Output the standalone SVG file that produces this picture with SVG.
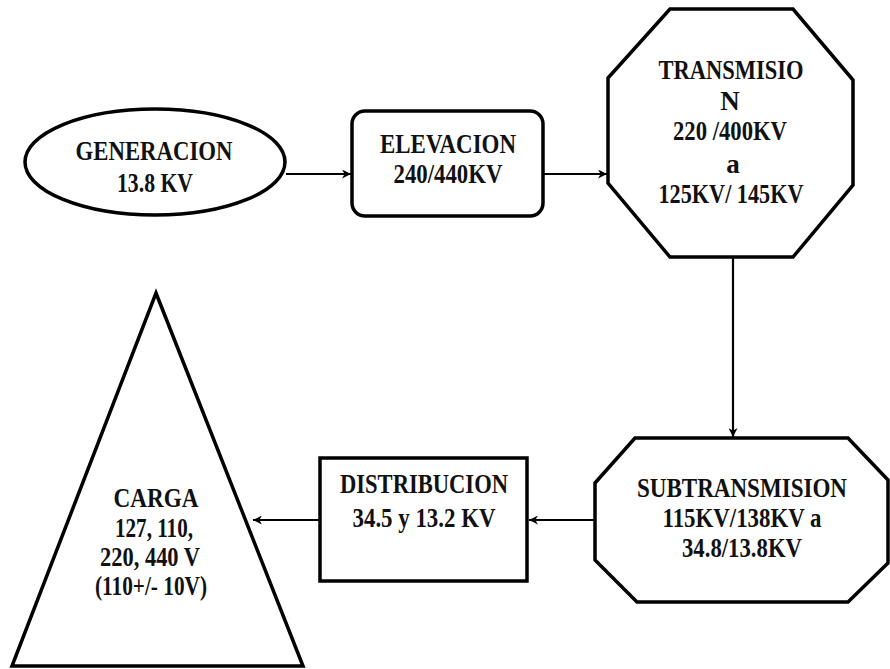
<svg xmlns="http://www.w3.org/2000/svg" width="890" height="669" viewBox="0 0 890 669">
<defs>
<style>
.shape{fill:#fff;stroke:#000;stroke-width:3.5;stroke-linejoin:miter}
.conn{stroke:#000;stroke-width:2.2;fill:none}
text{font-family:"Liberation Serif","Times New Roman",serif;font-weight:bold;font-size:27px;fill:#111;text-anchor:middle}
</style>
<marker id="arr" viewBox="0 0 10 10" refX="10" refY="5" markerWidth="10" markerHeight="9" orient="auto" markerUnits="userSpaceOnUse">
<path d="M0,0 L10,5 L0,10 L3,5 Z" fill="#000"/>
</marker>
</defs>
<rect width="890" height="669" fill="#fff"/>
<g id="connectors">
<line class="conn" x1="286" y1="174" x2="351" y2="174" marker-end="url(#arr)"/>
<line class="conn" x1="544" y1="174" x2="607" y2="174" marker-end="url(#arr)"/>
<line class="conn" x1="733" y1="258" x2="733" y2="437" marker-end="url(#arr)"/>
<line class="conn" x1="594" y1="520" x2="529" y2="520" marker-end="url(#arr)"/>
<line class="conn" x1="319" y1="520" x2="253" y2="520" marker-end="url(#arr)"/>
</g>
<g id="generacion">
<ellipse class="shape" cx="155" cy="162" rx="130" ry="53"/>
<text x="154" y="160" textLength="157" lengthAdjust="spacingAndGlyphs">GENERACION</text>
<text x="155" y="192" textLength="76" lengthAdjust="spacingAndGlyphs">13.8 KV</text>
</g>
<g id="elevacion">
<rect class="shape" x="352" y="111" width="191" height="105" rx="13"/>
<text x="448" y="153" textLength="136" lengthAdjust="spacingAndGlyphs">ELEVACION</text>
<text x="448" y="183" textLength="109" lengthAdjust="spacingAndGlyphs">240/440KV</text>
</g>
<g id="transmision">
<polygon class="shape" points="670,9 793,9 853,80 853,185 793,257 670,257 608,183 608,78"/>
<text x="731" y="79" textLength="145" lengthAdjust="spacingAndGlyphs">TRANSMISIO</text>
<text x="730" y="110">N</text>
<text x="730" y="140" textLength="114" lengthAdjust="spacingAndGlyphs">220 /400KV</text>
<text x="733" y="173">a</text>
<text x="731" y="203" textLength="145" lengthAdjust="spacingAndGlyphs">125KV/ 145KV</text>
</g>
<g id="subtransmision">
<polygon class="shape" points="635,438 848,438 888,480 888,563 848,602 637,602 595,560 595,483"/>
<text x="742" y="497" textLength="210" lengthAdjust="spacingAndGlyphs">SUBTRANSMISION</text>
<text x="742" y="527" textLength="159" lengthAdjust="spacingAndGlyphs">115KV/138KV a</text>
<text x="742" y="557" textLength="120" lengthAdjust="spacingAndGlyphs">34.8/13.8KV</text>
</g>
<g id="distribucion">
<rect class="shape" x="320" y="458" width="207" height="123"/>
<text x="424" y="493" textLength="168" lengthAdjust="spacingAndGlyphs">DISTRIBUCION</text>
<text x="424" y="527" textLength="143" lengthAdjust="spacingAndGlyphs">34.5 y 13.2 KV</text>
</g>
<g id="carga">
<polygon class="shape" points="156,293 303,666 12,666"/>
<text x="156" y="507" textLength="85" lengthAdjust="spacingAndGlyphs">CARGA</text>
<text x="154" y="537" textLength="78" lengthAdjust="spacingAndGlyphs">127, 110,</text>
<text x="150" y="566" textLength="100" lengthAdjust="spacingAndGlyphs">220, 440 V</text>
<text x="151" y="595" textLength="112" lengthAdjust="spacingAndGlyphs">(110+/- 10V)</text>
</g>
</svg>
